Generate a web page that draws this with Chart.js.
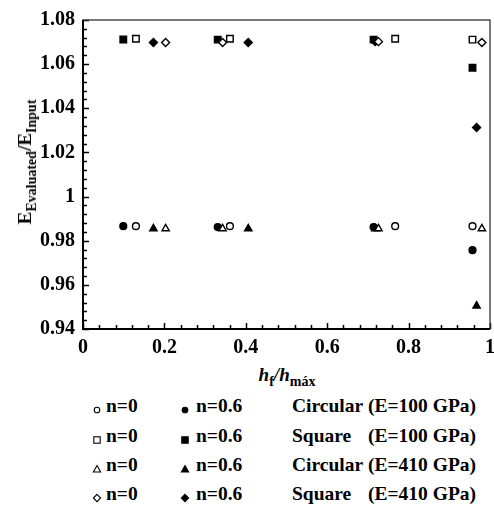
<!DOCTYPE html>
<html>
<head>
<meta charset="utf-8">
<script src="https://cdn.jsdelivr.net/npm/chart.js@4/dist/chart.umd.min.js"></script>
<style>
  html, body { margin:0; padding:0; background:#fff; }
  #wrap { position:relative; width:494px; height:509px; overflow:hidden; background:#fff; }
  #cbox { position:absolute; left:0; top:0; width:504px; height:362px; }
  .t { position:absolute; font-family:"Liberation Serif","Times New Roman",serif; font-weight:bold; color:#000; white-space:nowrap; }
  #ytitle { left:25px; top:162px; font-size:19px; transform:translate(-50%,-50%) rotate(-90deg); }
  #ytitle .s { font-size:14px; position:relative; top:5px; }
  #xtitle { left:287px; top:375px; font-size:19px; transform:translate(-50%,-50%); }
  #xtitle .s { font-size:14px; position:relative; top:5px; font-style:normal; }
  .lg { font-size:19.5px; line-height:22px; }
  .nm { display:inline-block; width:76px; }
  .mk { position:absolute; }
</style>
</head>
<body>
<div id="wrap">
  <div id="cbox"><canvas id="c"></canvas></div>
  <div id="ytitle" class="t">E<span class="s">Evaluated</span>/E<span class="s">Input</span></div>
  <div id="xtitle" class="t"><i>h</i><span class="s">f</span><i>/h</i><span class="s">máx</span></div>
  <div id="legend"></div>
</div>
<script>
// ---- data ----
const xTickValues = [0, 0.2, 0.4, 0.6, 0.8, 1];
const xTickLabels = ['0', '0.2', '0.4', '0.6', '0.8', '1'];
const yTickValues = [0.94, 0.96, 0.98, 1.00, 1.02, 1.04, 1.06, 1.08];
const yTickLabels = ['0.94', '0.96', '0.98', '1', '1.02', '1.04', '1.06', '1.08'];

// hf/hmax positions of each group of markers
const xN06E100 = [0.099, 0.331, 0.714, 0.957];
const xN0E100  = [0.130, 0.361, 0.767, 0.957];
const xN06E410 = [0.173, 0.406, 0.718, 0.967];
const xN0E410  = [0.203, 0.343, 0.726, 0.980];

// E_evaluated / E_input
const circ100N0  = [0.9866, 0.9866, 0.9866, 0.9866];
const circ100N06 = [0.9866, 0.9862, 0.9862, 0.9757];
const sq100N0    = [1.0715, 1.0715, 1.0715, 1.0711];
const sq100N06   = [1.0712, 1.0711, 1.0711, 1.0584];
const circ410N0  = [0.9855, 0.9855, 0.9855, 0.9855];
const circ410N06 = [0.9855, 0.9855, 0.9855, 0.9505];
const sq410N0    = [1.0698, 1.0698, 1.0702, 1.0698];
const sq410N06   = [1.0698, 1.0698, 1.0702, 1.0313];

const legendN0 = 'n=0';
const legendN06 = 'n=0.6';
const legendGroups = [
  ['Circular', '(E=100 GPa)'],
  ['Square', '(E=100 GPa)'],
  ['Circular', '(E=410 GPa)'],
  ['Square', '(E=410 GPa)']
];

// ---- chart ----
function pts(xs, ys) { return xs.map((x, i) => ({ x: x, y: ys[i] })); }
function ds(label, xs, ys, style, r, filled) {
  return {
    label: label, data: pts(xs, ys), showLine: false,
    pointStyle: style, pointRadius: r, pointHoverRadius: r,
    pointBackgroundColor: filled ? '#000' : '#fff',
    pointBorderColor: '#000', pointBorderWidth: 1.4
  };
}
// dataset 0 is drawn on top
const datasets = [
  ds('Square E=410 n=0', xN0E410, sq410N0, 'rectRot', 4, false),
  ds('Circular E=410 n=0', xN0E410, circ410N0, 'triangle', 4.2, false),
  ds('Square E=410 n=0.6', xN06E410, sq410N06, 'rectRot', 4, true),
  ds('Circular E=410 n=0.6', xN06E410, circ410N06, 'triangle', 4.2, true),
  ds('Square E=100 n=0', xN0E100, sq100N0, 'rect', 4.6, false),
  ds('Circular E=100 n=0', xN0E100, circ100N0, 'circle', 3.4, false),
  ds('Square E=100 n=0.6', xN06E100, sq100N06, 'rect', 4.6, true),
  ds('Circular E=100 n=0.6', xN06E100, circ100N06, 'circle', 3.4, true)
];

const frame = {
  id: 'frame',
  beforeDatasetsDraw(chart) {
    const ctx = chart.ctx, a = chart.chartArea;
    const xs = chart.scales.x, ys = chart.scales.y;
    ctx.save();
    ctx.strokeStyle = '#000';
    ctx.lineWidth = 1.5;
    const xmin = xs.min, xmax = xs.max, ymin = ys.min, ymax = ys.max;
    const xMinor = (xTickValues[1] - xTickValues[0]) / 5;
    const yMinor = (yTickValues[1] - yTickValues[0]) / 5;
    ctx.beginPath();
    for (let i = 0; i <= Math.round((xmax - xmin) / xMinor); i++) {
      const v = xmin + i * xMinor;
      const px = Math.round(xs.getPixelForValue(v)) + 0.5;
      const len = (i % 5 === 0) ? 6 : 4;
      ctx.moveTo(px, a.bottom); ctx.lineTo(px, a.bottom - len);
    }
    for (let i = 0; i <= Math.round((ymax - ymin) / yMinor); i++) {
      const v = ymin + i * yMinor;
      const py = Math.round(ys.getPixelForValue(v)) + 0.5;
      const len = (i % 5 === 0) ? 6 : 4;
      ctx.moveTo(a.left, py); ctx.lineTo(a.left + len, py);
    }
    ctx.stroke();
    ctx.lineWidth = 1.3;
    ctx.strokeStyle = '#333';
    ctx.strokeRect(a.left, a.top, a.right - a.left, a.bottom - a.top);
    ctx.lineWidth = 2;
    ctx.strokeStyle = '#000';
    ctx.beginPath();
    ctx.moveTo(a.left, a.top); ctx.lineTo(a.left, a.bottom); ctx.lineTo(a.right, a.bottom);
    ctx.stroke();
    ctx.restore();
  }
};

const tickFont = { family: '"Liberation Serif", "Times New Roman", serif', size: 20, weight: 'bold' };

new Chart(document.getElementById('c'), {
  type: 'scatter',
  data: { datasets: datasets },
  options: {
    responsive: true, maintainAspectRatio: false, animation: false,
    layout: { padding: { left: 0, right: 14, top: 16, bottom: 0 } },
    plugins: { legend: { display: false }, tooltip: { enabled: false } },
    scales: {
      x: {
        type: 'linear', min: 0, max: 1,
        afterBuildTicks: s => { s.ticks = xTickValues.map(v => ({ value: v })); },
        ticks: { font: tickFont, color: '#000', padding: 7, maxRotation: 0,
                 callback: (v) => { const i = xTickValues.findIndex(t => Math.abs(t - v) < 1e-9); return i >= 0 ? xTickLabels[i] : ''; } },
        grid: { display: false, drawTicks: false },
        border: { display: false },
        afterFit: s => { s.height = 33; }
      },
      y: {
        type: 'linear', min: 0.94, max: 1.08,
        afterBuildTicks: s => { s.ticks = yTickValues.map(v => ({ value: v })); },
        ticks: { font: tickFont, color: '#000', padding: 8,
                 callback: (v) => { const i = yTickValues.findIndex(t => Math.abs(t - v) < 1e-9); return i >= 0 ? yTickLabels[i] : ''; } },
        grid: { display: false, drawTicks: false },
        border: { display: false },
        afterFit: s => { s.width = 83; }
      }
    }
  },
  plugins: [frame]
});

// ---- legend (HTML text) ----
(function () {
  const lg = document.getElementById('legend');
  const rowY = [406, 436, 465, 494];
  const shapes = ['circle', 'rect', 'triangle', 'rectRot'];
  function marker(shape, filled, cx, cy) {
    const f = filled ? '#000' : '#fff';
    let inner = '';
    if (shape === 'circle') inner = `<circle cx="5" cy="5" r="2.8" fill="${f}" stroke="#000" stroke-width="1.1"/>`;
    if (shape === 'rect') inner = `<rect x="1.8" y="1.8" width="6.4" height="6.4" fill="${f}" stroke="#000" stroke-width="1.1"/>`;
    if (shape === 'triangle') inner = `<polygon points="5,1.6 8.6,8 1.4,8" fill="${f}" stroke="#000" stroke-width="1.1"/>`;
    if (shape === 'rectRot') inner = `<polygon points="5,1.4 8.6,5 5,8.6 1.4,5" fill="${f}" stroke="#000" stroke-width="1.1"/>`;
    const d = document.createElement('div');
    d.className = 'mk';
    d.style.left = (cx - 5) + 'px'; d.style.top = (cy - 5) + 'px';
    d.innerHTML = `<svg width="10" height="10" viewBox="0 0 10 10">${inner}</svg>`;
    lg.appendChild(d);
  }
  function text(html, x, cy) {
    const d = document.createElement('div');
    d.className = 't lg';
    d.style.left = x + 'px'; d.style.top = (cy - 11) + 'px';
    d.innerHTML = html;
    lg.appendChild(d);
  }
  legendGroups.forEach((g, i) => {
    const y = rowY[i];
    marker(shapes[i], false, 97, y);
    text(legendN0, 106, y);
    marker(shapes[i], true, 185, y);
    text(legendN06, 196, y);
    text(`<span class="nm">${g[0]}</span>${g[1]}`, 292, y);
  });
})();
</script>
</body>
</html>
